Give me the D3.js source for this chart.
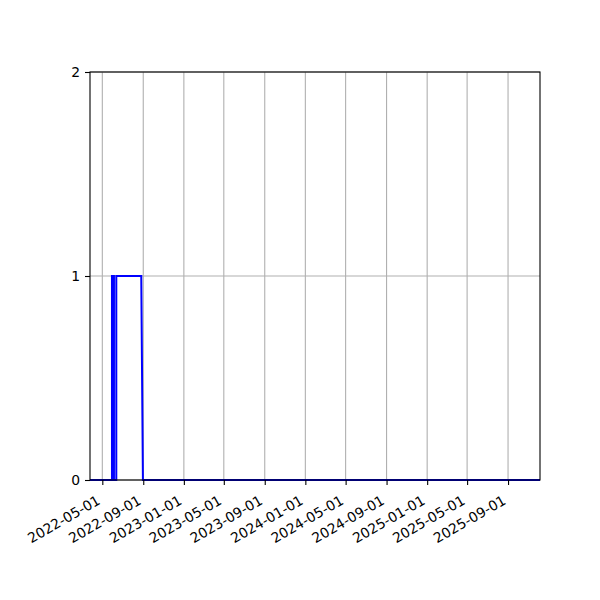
<!DOCTYPE html>
<html>
<head>
<meta charset="utf-8">
<script src="https://cdn.jsdelivr.net/npm/d3@7"></script>
<style>
  body { margin: 0; background: #fff; }
  svg text { font-family: "DejaVu Sans", sans-serif; font-size: 13.9px; fill: #000; }
</style>
</head>
<body>
<div id="chart"></div>
<script>
// Data
var dates = ["2022-03-25", "2022-05-30", "2022-05-30", "2022-06-05", "2022-06-05",
             "2022-06-12", "2022-06-12", "2022-08-26", "2022-08-31", "2025-12-06"];
var values = [0, 0, 1, 1, 0, 0, 1, 1, 0, 0];
var xTicks = ["2022-05-01", "2022-09-01", "2023-01-01", "2023-05-01", "2023-09-01",
              "2024-01-01", "2024-05-01", "2024-09-01", "2025-01-01", "2025-05-01", "2025-09-01"];
var yTicks = [0, 1, 2];
var xDomain = ["2022-03-25", "2025-12-06"];

var parse = d3.utcParse("%Y-%m-%d");
var data = dates.map(function(d, i) { return {date: parse(d), value: values[i]}; });

var margin = {top: 72, right: 60, bottom: 120, left: 90},
    width = 600 - margin.left - margin.right,
    height = 600 - margin.top - margin.bottom;

var svg = d3.select("#chart")
  .append("svg")
    .attr("width", 600)
    .attr("height", 600)
  .append("g")
    .attr("transform", "translate(" + margin.left + "," + margin.top + ")");

var x = d3.scaleUtc()
    .domain(xDomain.map(parse))
    .range([0, width]);

var y = d3.scaleLinear()
    .domain([0, 2])
    .range([height, 0]);

// Grid lines
svg.append("g")
  .selectAll("line.vgrid")
  .data(xTicks.map(parse))
  .join("line")
    .attr("x1", function(d) { return x(d); })
    .attr("x2", function(d) { return x(d); })
    .attr("y1", 0)
    .attr("y2", height)
    .attr("stroke", "#b0b0b0")
    .attr("stroke-width", 1.1);

svg.append("g")
  .selectAll("line.hgrid")
  .data(yTicks)
  .join("line")
    .attr("x1", 0)
    .attr("x2", width)
    .attr("y1", function(d) { return y(d); })
    .attr("y2", function(d) { return y(d); })
    .attr("stroke", "#b0b0b0")
    .attr("stroke-width", 1.1);

// Line
var line = d3.line()
    .x(function(d) { return x(d.date); })
    .y(function(d) { return y(d.value); });

svg.append("path")
    .datum(data)
    .attr("fill", "none")
    .attr("stroke", "#0000ff")
    .attr("stroke-width", 2)
    .attr("d", line);

// X axis
var xAxis = svg.append("g")
    .attr("transform", "translate(0," + height + ")")
    .call(d3.axisBottom(x)
      .tickValues(xTicks.map(parse))
      .tickFormat(d3.utcFormat("%Y-%m-%d"))
      .tickSize(5)
      .tickPadding(5));
xAxis.select(".domain").remove();
xAxis.selectAll(".tick line").attr("stroke", "#000").attr("stroke-width", 1.1);
xAxis.selectAll(".tick text")
    .attr("font-size", 13.9)
    .attr("font-family", "DejaVu Sans, sans-serif")
    .attr("text-anchor", "end")
    .attr("y", 0)
    .attr("dy", "0.35em")
    .attr("transform", "translate(-4,19) rotate(-30)");

// Y axis
var yAxis = svg.append("g")
    .call(d3.axisLeft(y)
      .tickValues(yTicks)
      .tickFormat(d3.format("d"))
      .tickSize(5)
      .tickPadding(5));
yAxis.select(".domain").remove();
yAxis.selectAll(".tick line").attr("stroke", "#000").attr("stroke-width", 1.1);
yAxis.selectAll(".tick text")
    .attr("font-size", 13.9)
    .attr("font-family", "DejaVu Sans, sans-serif");

// Frame
svg.append("rect")
    .attr("width", width)
    .attr("height", height)
    .attr("fill", "none")
    .attr("stroke", "#000")
    .attr("stroke-width", 1.1);
</script>
</body>
</html>
